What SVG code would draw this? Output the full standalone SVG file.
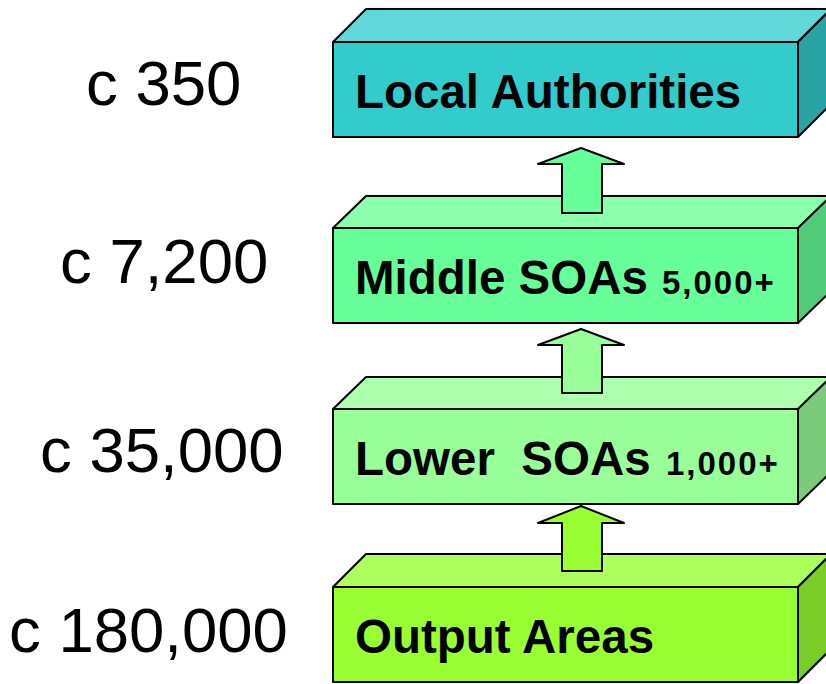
<svg xmlns="http://www.w3.org/2000/svg" width="826" height="684" viewBox="0 0 826 684">
<style>
.e{stroke:#000;stroke-width:2;stroke-linejoin:round}
.lbl{font-family:"Liberation Sans",Arial,sans-serif;font-size:63.5px;fill:#000}
.t{font-family:"Liberation Sans",Arial,sans-serif;font-weight:bold;font-size:47.5px;fill:#000}
.s{font-size:33px;letter-spacing:2px}
</style>
<rect width="826" height="684" fill="#fff"/>
<g id="counts">
<text class="lbl" x="86" y="105">c 350</text>
<text class="lbl" x="60" y="283">c 7,200</text>
<text class="lbl" x="40" y="472">c 35,000</text>
<text class="lbl" x="9" y="652">c 180,000</text>
</g>
<g id="la">
<polygon class="e" points="333,42 366,9 831,9 798,42" fill="#5ED8D8"/>
<polygon class="e" points="798,42 831,9 831,104 798,137" fill="#29A3A3"/>
<rect class="e" x="333" y="42" width="465" height="95" fill="#33CCCC"/>
<text class="t" x="355" y="108">Local Authorities</text>
</g>
<g id="msoa">
<polygon class="e" points="333,228 366,196 831,196 798,228" fill="#8CFFAD"/>
<polygon class="e" points="798,228 831,196 831,291 798,323" fill="#52CC7A"/>
<rect class="e" x="333" y="228" width="465" height="95" fill="#66FF99"/>
<text class="t" x="355" y="294">Middle SOAs <tspan class="s" x="662">5,000+</tspan></text>
</g>
<g id="lsoa">
<polygon class="e" points="333,409 366,377 831,377 798,409" fill="#ADFFAD"/>
<polygon class="e" points="798,409 831,377 831,472 798,504" fill="#7ACC7A"/>
<rect class="e" x="333" y="409" width="465" height="95" fill="#99FF99"/>
<text class="t" x="355" y="475" xml:space="preserve">Lower  SOAs <tspan class="s" x="666">1,000+</tspan></text>
</g>
<g id="oa">
<polygon class="e" points="333,587 366,554 831,554 798,587" fill="#ADFF5C"/>
<polygon class="e" points="798,587 831,554 831,649 798,682" fill="#7ACC29"/>
<rect class="e" x="333" y="587" width="465" height="95" fill="#99FF33"/>
<text class="t" x="355" y="653">Output Areas</text>
</g>
<g id="connectors">
<polygon class="e" points="581,148 624,164 602,164 602,213 562,213 562,164 538,164" fill="#66FF99"/>
<polygon class="e" points="581,329 624,345 602,345 602,393 562,393 562,345 538,345" fill="#99FF99"/>
<polygon class="e" points="581,506 624,523 602,523 602,571 562,571 562,523 538,523" fill="#99FF33"/>
</g>
</svg>
